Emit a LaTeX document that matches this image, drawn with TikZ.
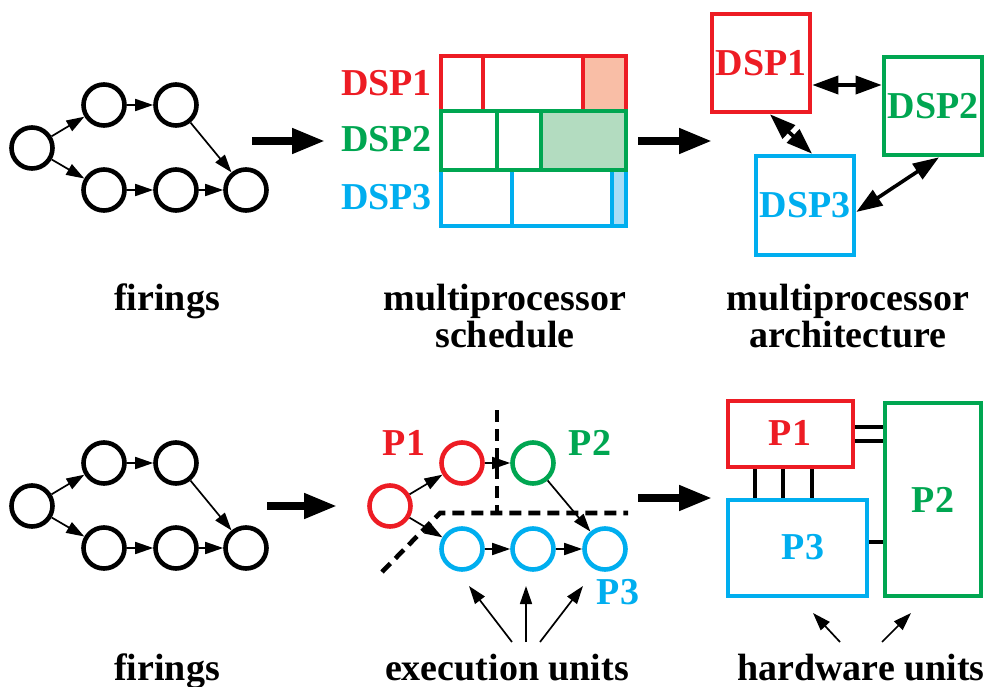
\documentclass[tikz,border=0pt]{standalone}
\usepackage{fontspec}
\setmainfont{Liberation Serif}
\usetikzlibrary{arrows.meta,calc}
\definecolor{cred}{HTML}{ED1C24}
\definecolor{cgreen}{HTML}{00A651}
\definecolor{cblue}{HTML}{00AEEF}
\definecolor{fred}{HTML}{F9BEA6}
\definecolor{fgreen}{HTML}{B3DCC0}
\definecolor{fblue}{HTML}{A8DDF6}
\begin{document}
\begin{tikzpicture}[x=1pt,y=-1pt,
 fire/.style={circle,draw,line width=4.6pt,minimum size=41pt,inner sep=0pt},
 edge/.style={line width=1.7pt,-{Triangle[length=18pt,width=12pt]}},
 bigarrow/.style={line width=7.5pt,-{Triangle[length=33pt,width=24pt]}},
 dbl/.style={line width=3.6pt,{Triangle[length=26pt,width=18pt]}-{Triangle[length=26pt,width=18pt]}},
 lbl/.style={font=\fontsize{38}{37}\selectfont\bfseries,inner sep=0pt},
 box/.style={draw,line width=4.6pt,inner sep=0pt,font=\fontsize{38}{37}\selectfont\bfseries},
 wire/.style={line width=4pt},
 cut/.style={line width=4.6pt,dash pattern=on 12pt off 7pt},
 grid/.style={line width=4.6pt},
]
\useasboundingbox (0,0) rectangle (984,687);

% ---------- top-left firings graph ----------
\node[fire] (a1) at (32,148) {};
\node[fire] (a2) at (104,105) {};
\node[fire] (a3) at (176,105) {};
\node[fire] (a4) at (104,190) {};
\node[fire] (a5) at (176,190) {};
\node[fire] (a6) at (246,190) {};
\draw[edge] (a1) -- (a2);
\draw[edge] (a2) -- (a3);
\draw[edge] (a3) -- (a6);
\draw[edge] (a1) -- (a4);
\draw[edge] (a4) -- (a5);
\draw[edge] (a5) -- (a6);

\coordinate (t1s) at (252,141); \coordinate (t1e) at (325,141);
\draw[bigarrow] (t1s) -- (t1e);

% ---------- schedule ----------
\fill[fred] (583,56) rectangle (626,111);
\fill[fgreen] (541,111) rectangle (626,170);
\fill[fblue] (612,170) rectangle (626,226);
\draw[grid,cred] (441,56) rectangle (626,111) (483,56) -- (483,111) (583,56) -- (583,111);
\draw[grid,cblue] (441,170) rectangle (626,226) (512,170) -- (512,226) (612,170) -- (612,226);
\draw[grid,cgreen] (441,111) rectangle (626,170) (497,111) -- (497,170) (541,111) -- (541,170);
\node[lbl,text=cred,anchor=east] (s1) at (432,83) {DSP1};
\node[lbl,text=cgreen,anchor=east] (s2) at (432,139) {DSP2};
\node[lbl,text=cblue,anchor=east] (s3) at (432,197) {DSP3};

\coordinate (t2s) at (638,141); \coordinate (t2e) at (712,141);
\draw[bigarrow] (t2s) -- (t2e);

% ---------- architecture ----------
\node[box,draw=cred,text=cred,minimum width=98pt,minimum height=98pt] (d1) at (761,63) {DSP1};
\node[box,draw=cgreen,text=cgreen,minimum width=98pt,minimum height=98pt] (d2) at (933,106) {DSP2};
\node[box,draw=cblue,text=cblue,minimum width=98pt,minimum height=99pt] (d3) at (805,205.5) {\raisebox{-5pt}{DSP3}};
\draw[dbl] ($(d1.east)+(0,22)$) -- ($(d2.west)+(0,-21)$);
\draw[dbl] ($(d1.south)+(9,0)$) -- ($(d3.north)+(7,0)$);
\draw[dbl] ($(d2.south)+(6,0)$) -- ($(d3.east)+(0,6.5)$);

% ---------- top labels ----------
\node[lbl,anchor=base] (l1) at (167,310) {firings};
\node[lbl,align=center,anchor=north] (l2) at (505,284) {multiprocessor\\schedule};
\node[lbl,align=center,anchor=north] (l3) at (848,284) {multiprocessor\\architecture};

% ---------- bottom-left firings graph ----------
\node[fire] (b1) at (32,506) {};
\node[fire] (b2) at (104,463) {};
\node[fire] (b3) at (176,463) {};
\node[fire] (b4) at (104,548) {};
\node[fire] (b5) at (176,548) {};
\node[fire] (b6) at (246,548) {};
\draw[edge] (b1) -- (b2);
\draw[edge] (b2) -- (b3);
\draw[edge] (b3) -- (b6);
\draw[edge] (b1) -- (b4);
\draw[edge] (b4) -- (b5);
\draw[edge] (b5) -- (b6);

\coordinate (b1s) at (267,506); \coordinate (b1e) at (337,506);
\draw[bigarrow] (b1s) -- (b1e);

% ---------- execution units ----------
\coordinate (v1) at (497,410); \coordinate (v2) at (497,513);
\coordinate (h0) at (382,572); \coordinate (h1) at (440,513); \coordinate (h2) at (628,513);
\draw[cut] (v1) -- (v2);
\draw[cut] (h0) -- (h1) -- (h2);

\node[fire,draw=cred] (m1) at (390,506) {};
\node[fire,draw=cred] (m2) at (462,463) {};
\node[fire,draw=cgreen] (m3) at (533,463) {};
\node[fire,draw=cblue] (m4) at (462,549) {};
\node[fire,draw=cblue] (m5) at (533,549) {};
\node[fire,draw=cblue] (m6) at (605,549) {};
\draw[edge] (m1) -- (m2);
\draw[edge] (m2) -- (m3);
\draw[edge] (m3) -- (m6);
\draw[edge] (m1) -- (m4);
\draw[edge] (m4) -- (m5);
\draw[edge] (m5) -- (m6);
\node[lbl,text=cred] (p1l) at (404,443) {P1};
\node[lbl,text=cgreen] (p2l) at (590,443) {P2};
\node[lbl,text=cblue] (p3l) at (618,592) {P3};

\coordinate (e1t) at (512,642); \coordinate (e1h) at (469,586);
\coordinate (e2t) at (526,642); \coordinate (e2h) at (526,586);
\coordinate (e3t) at (540,642); \coordinate (e3h) at (583,586);
\draw[edge] (e1t) -- (e1h);
\draw[edge] (e2t) -- (e2h);
\draw[edge] (e3t) -- (e3h);

\coordinate (b2s) at (638,498); \coordinate (b2e) at (712,498);
\draw[bigarrow] (b2s) -- (b2e);

% ---------- hardware units ----------
\node[box,draw=cred,text=cred,minimum width=125pt,minimum height=66pt] (p1) at (790.5,434) {};
\node[box,draw=cgreen,text=cgreen,minimum width=96pt,minimum height=193pt] (p2) at (933,499.5) {};
\node[box,draw=cblue,text=cblue,minimum width=139pt,minimum height=96pt] (p3) at (797.5,548) {};
\node[lbl,text=cred] (p1t) at (790,433) {P1};
\node[lbl,text=cgreen] (p2t) at (933,500) {P2};
\node[lbl,text=cblue] (p3t) at (803,547) {P3};
\draw[wire] ($(p1.east)+(0,-7)$) -- ($(p1.east -| p2.west)+(0,-7)$);
\draw[wire] ($(p1.east)+(0,7)$) -- ($(p1.east -| p2.west)+(0,7)$);
\foreach \dx in {-35.5,-7.5,21.5}
  \draw[wire] ($(p1.south)+(\dx,0)$) -- ($(p3.north -| p1.south)+(\dx,0)$);
\draw[wire] ($(p3.east)+(0,-6)$) -- ($(p3.east -| p2.west)+(0,-6)$);

\coordinate (w1t) at (840,642); \coordinate (w1h) at (813,613);
\coordinate (w2t) at (882,642); \coordinate (w2h) at (911,613);
\draw[edge] (w1t) -- (w1h);
\draw[edge] (w2t) -- (w2h);

% ---------- bottom labels ----------
\node[lbl,anchor=base] (l4) at (167,680) {firings};
\node[lbl,anchor=base] (l5) at (507,680) {execution units};
\node[lbl,anchor=base] (l6) at (861,680) {hardware units};
\end{tikzpicture}
\end{document}
